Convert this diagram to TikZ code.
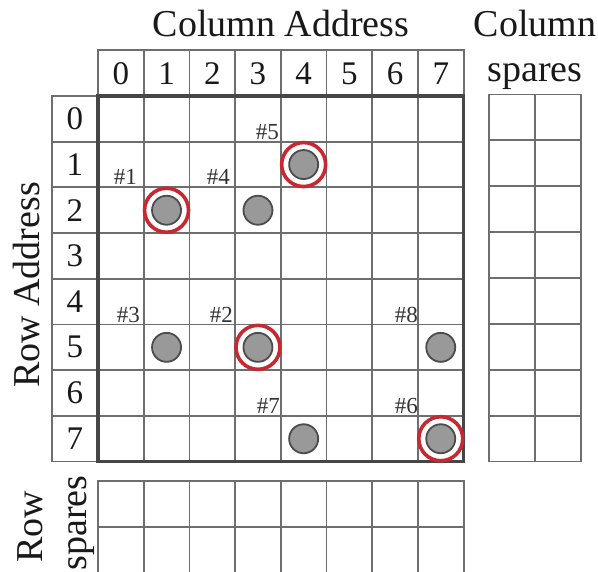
\documentclass[tikz,border=0pt]{standalone}
\usepackage{fontspec}
\setmainfont{Liberation Serif}
\definecolor{ringred}{RGB}{200,40,50}
\definecolor{gridgray}{RGB}{110,110,110}
\definecolor{darkgray}{RGB}{70,70,70}
\begin{document}
\begin{tikzpicture}[x=1pt,y=-1pt,
  thingrid/.style={draw=gridgray, line width=1.8pt},
  thickgrid/.style={draw=darkgray, line width=3.2pt},
  bigtext/.style={font=\fontsize{38}{38}\selectfont, inner sep=0pt, text=black!90},
  digit/.style={font=\fontsize{33}{33}\selectfont, inner sep=0pt, text=black!90},
  tag/.style={font=\fontsize{23}{23}\selectfont, text=black!80, inner sep=0pt, anchor=base east},
  fault/.style={circle, draw=black!70, fill=black!40, line width=1.8pt, minimum size=29pt, inner sep=0pt},
  ring/.style={circle, draw=ringred, line width=3.6pt, minimum size=44pt, inner sep=0pt},
]
\useasboundingbox (0,0) rectangle (598,572);
\fill[white] (0,0) rectangle (598,572);
\def\cw{45.7}
% header row (column digits)
\draw[thingrid] (98,50) rectangle (463.6,96);
\foreach \i in {1,...,7} \draw[thingrid] ({98+\cw*\i},50) -- ({98+\cw*\i},96);
% row label column
\draw[thingrid] (52,96) rectangle (98,461.6);
\foreach \j in {1,...,7} \draw[thingrid] (52,{96+\cw*\j}) -- (98,{96+\cw*\j});
% main grid interior
\foreach \i in {1,...,7} \draw[thingrid] ({98+\cw*\i},96) -- ({98+\cw*\i},461.6);
\foreach \j in {1,...,7} \draw[thingrid] (98,{96+\cw*\j}) -- (463.6,{96+\cw*\j});
\draw[thickgrid] (98,96) rectangle (463.6,461.6);
% column spares
\draw[thingrid] (489,94.5) rectangle (581,461.5);
\draw[thingrid] (535,94.5) -- (535,461.5);
\foreach \j in {1,...,7} \draw[thingrid] (489,{94.5+45.875*\j}) -- (581,{94.5+45.875*\j});
% row spares
\draw[thingrid] (98,575) -- (98,481) -- (463.6,481) -- (463.6,575);
\draw[thingrid] (98,527) -- (463.6,527);
\foreach \i in {1,...,7} \draw[thingrid] ({98+\cw*\i},481) -- ({98+\cw*\i},575);
% titles
\node[bigtext, anchor=base] (coladdr) at (281,37) {Column Address};
\node[bigtext, anchor=base] (colsp1) at (535,37) {Column};
\node[bigtext, anchor=base] (colsp2) at (535,82) {spares};
\node[bigtext, anchor=base, rotate=90] (rowaddr) at (39,285) {Row Address};
\node[bigtext, anchor=base, rotate=90] (rowsp1) at (42,527) {Row};
\node[bigtext, anchor=base, rotate=90] (rowsp2) at (86,523) {spares};
% digits
\foreach \i in {0,...,7} {
  \node[digit, anchor=base] (ch\i) at ({98+\cw*(\i+0.5)},85) {\i};
  \node[digit] (rh\i) at (75,{96+\cw*(\i+0.5)}) {\i};
}
% faults
\foreach \r/\c/\n in {2/1/a,2/3/b,1/4/c,5/1/d,5/3/e,5/7/f,7/4/g,7/7/h}
  \node[fault] (f\n) at ({98+\cw*(\c+0.5)},{96+\cw*(\r+0.5)}) {};
\foreach \n in {a,c,e,h}
  \node[ring] (r\n) at (f\n) {};
% tags
\node[tag] (t1) at (137,185) {\#1};
\node[tag] (t4) at (230,185) {\#4};
\node[tag] (t5) at (279,140) {\#5};
\node[tag] (t3) at (140,323) {\#3};
\node[tag] (t2) at (233,323) {\#2};
\node[tag] (t8) at (418,323) {\#8};
\node[tag] (t7) at (280,414) {\#7};
\node[tag] (t6) at (418,414) {\#6};
\end{tikzpicture}
\end{document}
